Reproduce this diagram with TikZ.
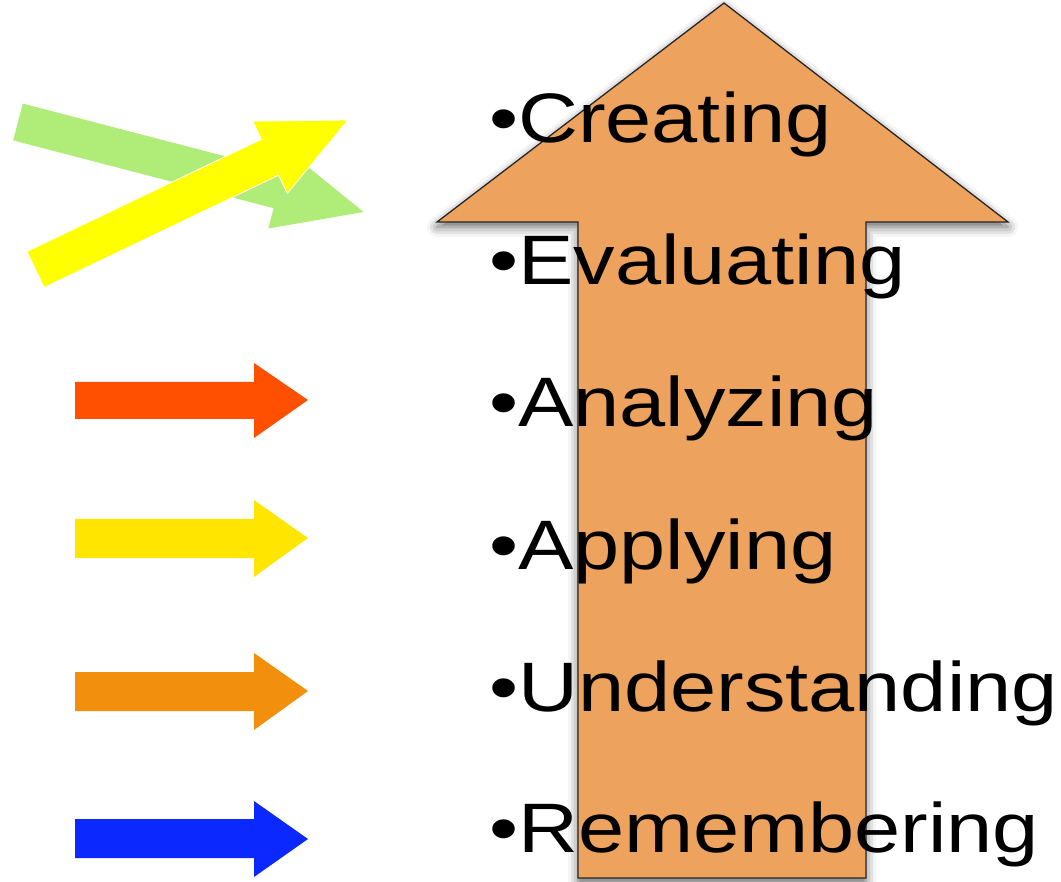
\documentclass[tikz,border=0pt]{standalone}
\usepackage{fontspec}
\setmainfont{Liberation Sans}
\usetikzlibrary{shadows.blur}
\definecolor{bigorange}{HTML}{EDA25E}
\definecolor{redarrow}{HTML}{FF4F00}
\definecolor{yellowarrow}{HTML}{FFE500}
\definecolor{orangearrow}{HTML}{F2900E}
\definecolor{bluearrow}{HTML}{0A28FF}
\definecolor{greenarrow}{HTML}{B0EC78}
\definecolor{brightyellow}{HTML}{FFFF00}
\newcommand{\lvltext}[1]{\scalebox{1.185}[1]{#1}}
\tikzset{
  level/.style={anchor=base west, inner sep=0pt, font=\fontsize{70}{80}\selectfont, text=black},
  bigarrow/.style={fill=bigorange, draw=black!85, line width=1.3pt,
    blur shadow={shadow xshift=0pt, shadow yshift=-5pt, shadow blur radius=10pt, shadow opacity=60}},
}
\begin{document}
\begin{tikzpicture}[x=1pt,y=-1pt]
\useasboundingbox (0,0) rectangle (1061,882);
% tilted arrows
\fill[greenarrow] (22.8,103.6) -- (283.2,171.4) -- (288.5,151.1) -- (363.6,212) -- (268.3,228.5) -- (273.6,208.2) -- (13.2,140.4) -- cycle;
\filldraw[fill=brightyellow, draw=white, line width=0.8pt] (26.9,251.5) -- (261.4,139.3) -- (252.7,121.2) -- (348,120) -- (287.3,193.4) -- (278.6,175.3) -- (44.1,287.5) -- cycle;
% horizontal arrows
\fill[redarrow] (75,382) -- (254,382) -- (254,363) -- (308,400) -- (254,438) -- (254,419) -- (75,419) -- cycle;
\fill[yellowarrow] (75,519) -- (254,519) -- (254,500) -- (308,538) -- (254,577) -- (254,558) -- (75,558) -- cycle;
\fill[orangearrow] (75,672) -- (254,672) -- (254,653) -- (308,691) -- (254,730) -- (254,711) -- (75,711) -- cycle;
\fill[bluearrow] (75,819) -- (254,819) -- (254,801) -- (308,839) -- (254,877) -- (254,858) -- (75,858) -- cycle;
% big arrow
\draw[bigarrow] (578,878) -- (578,222) -- (437,222) -- (724,3) -- (1008,222) -- (866,222) -- (866,878) -- cycle;
% labels
\node[level] (creating) at (489,143) {\lvltext{•Creating}};
\node[level] (evaluating) at (489,285) {\lvltext{•Evaluating}};
\node[level] (analyzing) at (489,427) {\lvltext{•Analyzing}};
\node[level] (applying) at (489,569) {\lvltext{•Applying}};
\node[level] (understanding) at (489,711) {\lvltext{•Understanding}};
\node[level] (remembering) at (489,852) {\lvltext{•Remembering}};
\end{tikzpicture}
\end{document}
